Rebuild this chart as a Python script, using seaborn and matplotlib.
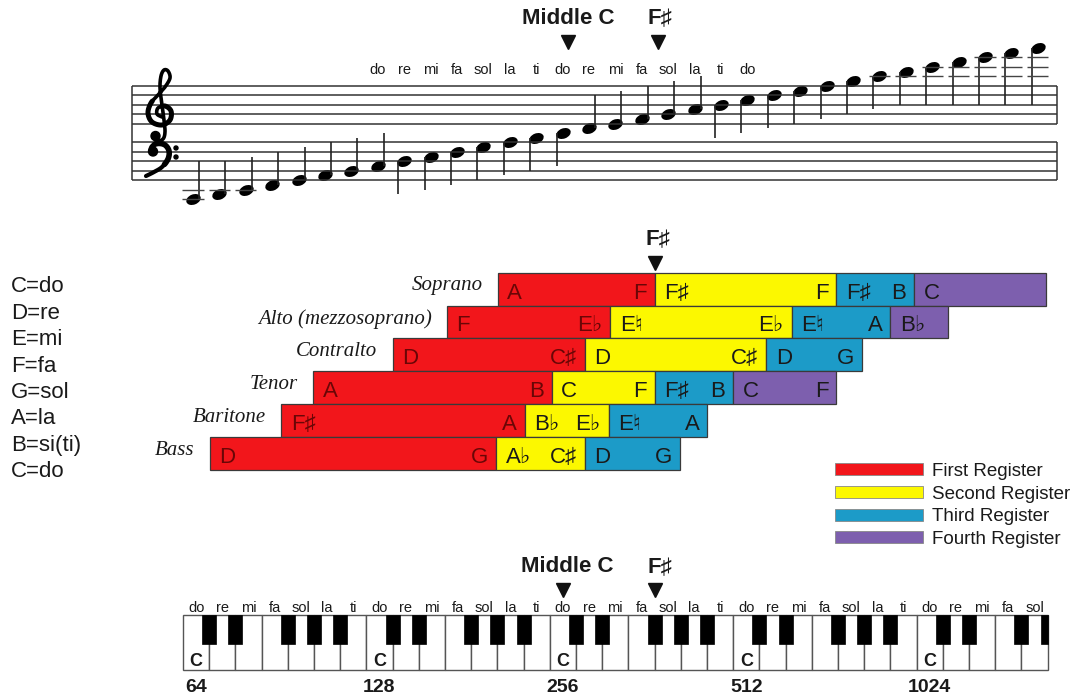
import numpy as np
import pandas as pd
import seaborn as sns
import matplotlib.pyplot as plt
from matplotlib.path import Path
from matplotlib.markers import MarkerStyle
from matplotlib.transforms import Affine2D
from matplotlib.patches import Patch, Circle

W, H = 1086, 699

# ---- data -------------------------------------------------------------
# staff notes, one per diatonic step, 0 = middle C (C2 .. G6)
note_steps = np.arange(-14, 19)
solfege = ['do', 're', 'mi', 'fa', 'sol', 'la', 'ti']
staff_solfege_steps = np.arange(-7, 8)          # C3 .. C5 get a syllable

voices = ['Soprano', 'Alto (mezzosoprano)', 'Contralto', 'Tenor', 'Baritone', 'Bass']
registers = ['First Register', 'Second Register', 'Third Register', 'Fourth Register']

# register edges, in semitones from middle C
soprano_edges = [-3.9, 6.0, 17.4, 22.3, 30.6]
alto_edges = [-7.1, 3.2, 14.6, 20.8, 24.4]
contralto_edges = [-10.5, 1.6, 13.0, 19.0]
tenor_edges = [-15.5, -0.5, 6.0, 10.9, 17.4]
baritone_edges = [-17.5, -2.2, 3.1, 9.3]
bass_edges = [-22.0, -4.0, 1.6, 7.6]

soprano_notes = [('A', 'F'), ('F♯', 'F'), ('F♯', 'B'), ('C', '')]
alto_notes = [('F', 'E♭'), ('E♮', 'E♭'), ('E♮', 'A'), ('B♭', '')]
contralto_notes = [('D', 'C♯'), ('D', 'C♯'), ('D', 'G')]
tenor_notes = [('A', 'B'), ('C', 'F'), ('F♯', 'B'), ('C', 'F')]
baritone_notes = [('F♯', 'A'), ('B♭', 'E♭'), ('E♮', 'A')]
bass_notes = [('D', 'G'), ('A♭', 'C♯'), ('D', 'G')]

voice_edges = [soprano_edges, alto_edges, contralto_edges, tenor_edges, baritone_edges, bass_edges]
voice_notes = [soprano_notes, alto_notes, contralto_notes, tenor_notes, baritone_notes, bass_notes]

name_key = ['C=do', 'D=re', 'E=mi', 'F=fa', 'G=sol', 'A=la', 'B=si(ti)', 'C=do']

n_white = 33                       # white keys C2 .. G6
c_keys = [0, 7, 14, 21, 28]
c_freqs = ['64', '128', '256', '512', '1024']

reg_colors = ['#f2161b', '#fcf800', '#1c9bc8', '#7d5fae']
ink = '#1a1a1a'

# ---- setup ------------------------------------------------------------
sns.set_theme(style='white')
plt.rcParams['font.family'] = ['Liberation Sans', 'DejaVu Sans']

fig = plt.figure(figsize=(W / 100, H / 100), dpi=100)
fig.patch.set_facecolor('white')


def overlay(x0, xs, y0, ys):
    # whole-figure axes where pixel = x0 + xs*x , y0 + ys*y
    ax = fig.add_axes([0, 0, 1, 1])
    ax.set_xlim(-x0 / xs, (W - x0) / xs)
    ax.set_ylim((H - y0) / ys, -y0 / ys)
    ax.axis('off')
    ax.patch.set_alpha(0)
    return ax


def smooth(pts, n=14):
    # catmull-rom through the given points
    p = np.asarray(pts, float)
    p = np.vstack([p[0], p, p[-1]])
    t = np.linspace(0, 1, n, endpoint=False)[:, None]
    out = []
    for i in range(1, len(p) - 2):
        p0, p1, p2, p3 = p[i - 1], p[i], p[i + 1], p[i + 2]
        out.append(0.5 * (2 * p1 + (p2 - p0) * t + (2 * p0 - 5 * p1 + 4 * p2 - p3) * t ** 2
                          + (3 * p1 - p0 - 3 * p2 + p3) * t ** 3))
    out.append(p[-2][None])
    return np.vstack(out)


bold = dict(fontsize=16, fontweight='bold', color=ink, ha='center', va='center')

# ---- staff ------------------------------------------------------------
st = overlay(562.6, 26.4, 133, -4.72)
x_left, x_right = -16.31, 18.73
st.hlines([2, 4, 6, 8, 10, -2, -4, -6, -8, -10], x_left, x_right, color='#333333', lw=1.1)
st.vlines(x_left, -10, 10, color='#333333', lw=1.1)
st.vlines([x_right, x_right], [2, -10], [10, -2], color='#333333', lw=1.1)

staff = pd.DataFrame({'x': note_steps, 'step': note_steps})
up = (staff.step < -6) | ((staff.step > 0) & (staff.step < 6))
stem_end = np.where(up, np.maximum(staff.step + 7, -6), np.minimum(staff.step - 7, 6))
stem_x = staff.x + np.where(up, 0.23, -0.23)
st.vlines(stem_x, staff.step, stem_end, color='#222222', lw=1.2)

for s in staff.step:
    levels = list(range(-12, s - 1, -2)) if s <= -12 else list(range(12, min(s, 16) + 1, 2))
    if levels:
        st.hlines(levels, s - 0.4, s + 0.4, color='#444444', lw=1.0)

head = Path.unit_circle().transformed(Affine2D().scale(1, 0.68).rotate_deg(22))
sns.scatterplot(data=staff, x='x', y='step', marker=MarkerStyle(head), s=115,
                color='black', edgecolor='black', linewidth=0, legend=False, ax=st)

for s in staff_solfege_steps:
    st.text(s, 12.6, solfege[s % 7], fontsize=10.5, color=ink, ha='center', va='baseline')

st.text(0.2, 24.2, 'Middle C', **bold)
st.text(3.7, 24.2, 'F♯', **bold)
st.plot([0.2, 3.6], [19.2, 19.2], 'v', color='#111111', ms=10, ls='none')

# clefs: no installed font has the musical symbols, so draw them
px = overlay(0, 1, 0, 1)
treble = smooth([(162, 117), (157, 114), (158, 108), (165, 106), (171, 111), (170, 120),
                 (162, 125), (152, 122), (148, 113), (151, 103), (158, 95), (165, 87),
                 (170, 78), (168, 71), (164, 70), (161, 76), (160, 88), (162, 105),
                 (164, 120), (165, 132), (163, 139), (157, 141), (153, 137)])
px.plot(treble[:, 0], treble[:, 1], color='black', lw=2.6, solid_capstyle='round')
px.plot(treble[40:130, 0], treble[40:130, 1], color='black', lw=3.6, solid_capstyle='round')
px.add_patch(Circle((155.5, 136), 4.5, color='black'))
bass = smooth([(150, 151), (152, 146), (158, 143.5), (165, 145), (169, 151), (168, 159),
               (162, 167), (154, 172), (146, 176)])
px.plot(bass[:, 0], bass[:, 1], color='black', lw=3.0, solid_capstyle='round')
px.plot(bass[20:80, 0], bass[20:80, 1], color='black', lw=4.0, solid_capstyle='round')
px.add_patch(Circle((153, 151.5), 4.5, color='black'))
px.add_patch(Circle((176, 148), 2.0, color='black'))
px.add_patch(Circle((176, 157), 2.0, color='black'))

# ---- registers --------------------------------------------------------
rg = overlay(559.6, 15.9, 289.1, 32.9)
for k, (edges, notes) in enumerate(zip(voice_edges, voice_notes)):
    for j, (lo, hi) in enumerate(notes):
        rg.barh(k, edges[j + 1] - edges[j], left=edges[j], height=1,
                color=reg_colors[j], edgecolor='#3a3a3a', lw=0.9)
        tc = '#6a0606' if j == 0 else ink
        rg.text(edges[j] + 0.6, k + 0.12, lo, fontsize=16, color=tc, ha='left', va='center')
        rg.text(edges[j + 1] - 0.5, k + 0.12, hi, fontsize=16, color=tc, ha='right', va='center')
    rg.text(edges[0] - 0.95, k - 0.1, voices[k], fontsize=15, style='italic',
            family=['Liberation Serif', 'DejaVu Serif'], color=ink, ha='right', va='center')

rg.text(6.2, -1.49, 'F♯', **bold)
rg.plot([6.0], [-0.8], 'v', color='#111111', ms=10, ls='none')

handles = [Patch(facecolor=c, edgecolor='#888888', lw=0.6) for c in reg_colors]
rg.legend(handles, registers, loc='upper left', bbox_to_anchor=(835 / W, 1 - 463 / H),
          bbox_transform=fig.transFigure, frameon=False, fontsize=13.5, borderpad=0,
          borderaxespad=0, handlelength=4.7, handleheight=0.6, handletextpad=0.5,
          labelspacing=0.3, labelcolor=ink)

for i, t in enumerate(name_key):
    fig.text(11 / W, 1 - (287 + 26.4 * i) / H, t, fontsize=16, color=ink, ha='left', va='center')

# ---- keyboard ---------------------------------------------------------
kb = overlay(183, 26.2, 615, 55)
white = np.arange(n_white)
kb.bar(white + 0.5, 1, width=1, bottom=0, color='white', edgecolor='#555555', lw=1.0)

black_left, black_w = [], []
for i in white:
    if i % 7 in (0, 1, 3, 4, 5):
        lo, hi = i + 1 - 0.267, min(i + 1 + 0.267, n_white)
        black_left.append(lo)
        black_w.append(hi - lo)
kb.bar(black_left, 0.535, width=black_w, bottom=0, align='edge', color='black', edgecolor='black', lw=0.5)

for i in white:
    kb.text(i + 0.5, -0.05, solfege[i % 7], fontsize=10.5, color=ink, ha='center', va='baseline')
for c, f in zip(c_keys, c_freqs):
    kb.text(c + 0.5, 0.84, 'C', fontsize=13, fontweight='bold', color=ink, ha='center', va='center')
    kb.text(c + 0.5, 1.31, f, fontsize=14, fontweight='bold', color=ink, ha='center', va='center')

kb.text(14.66, -0.89, 'Middle C', **bold)
kb.text(18.2, -0.87, 'F♯', **bold)
kb.plot([14.5, 18.0], [-0.45, -0.45], 'v', color='#111111', ms=10, ls='none')

fig.savefig('out.png', dpi=100, facecolor='white')
